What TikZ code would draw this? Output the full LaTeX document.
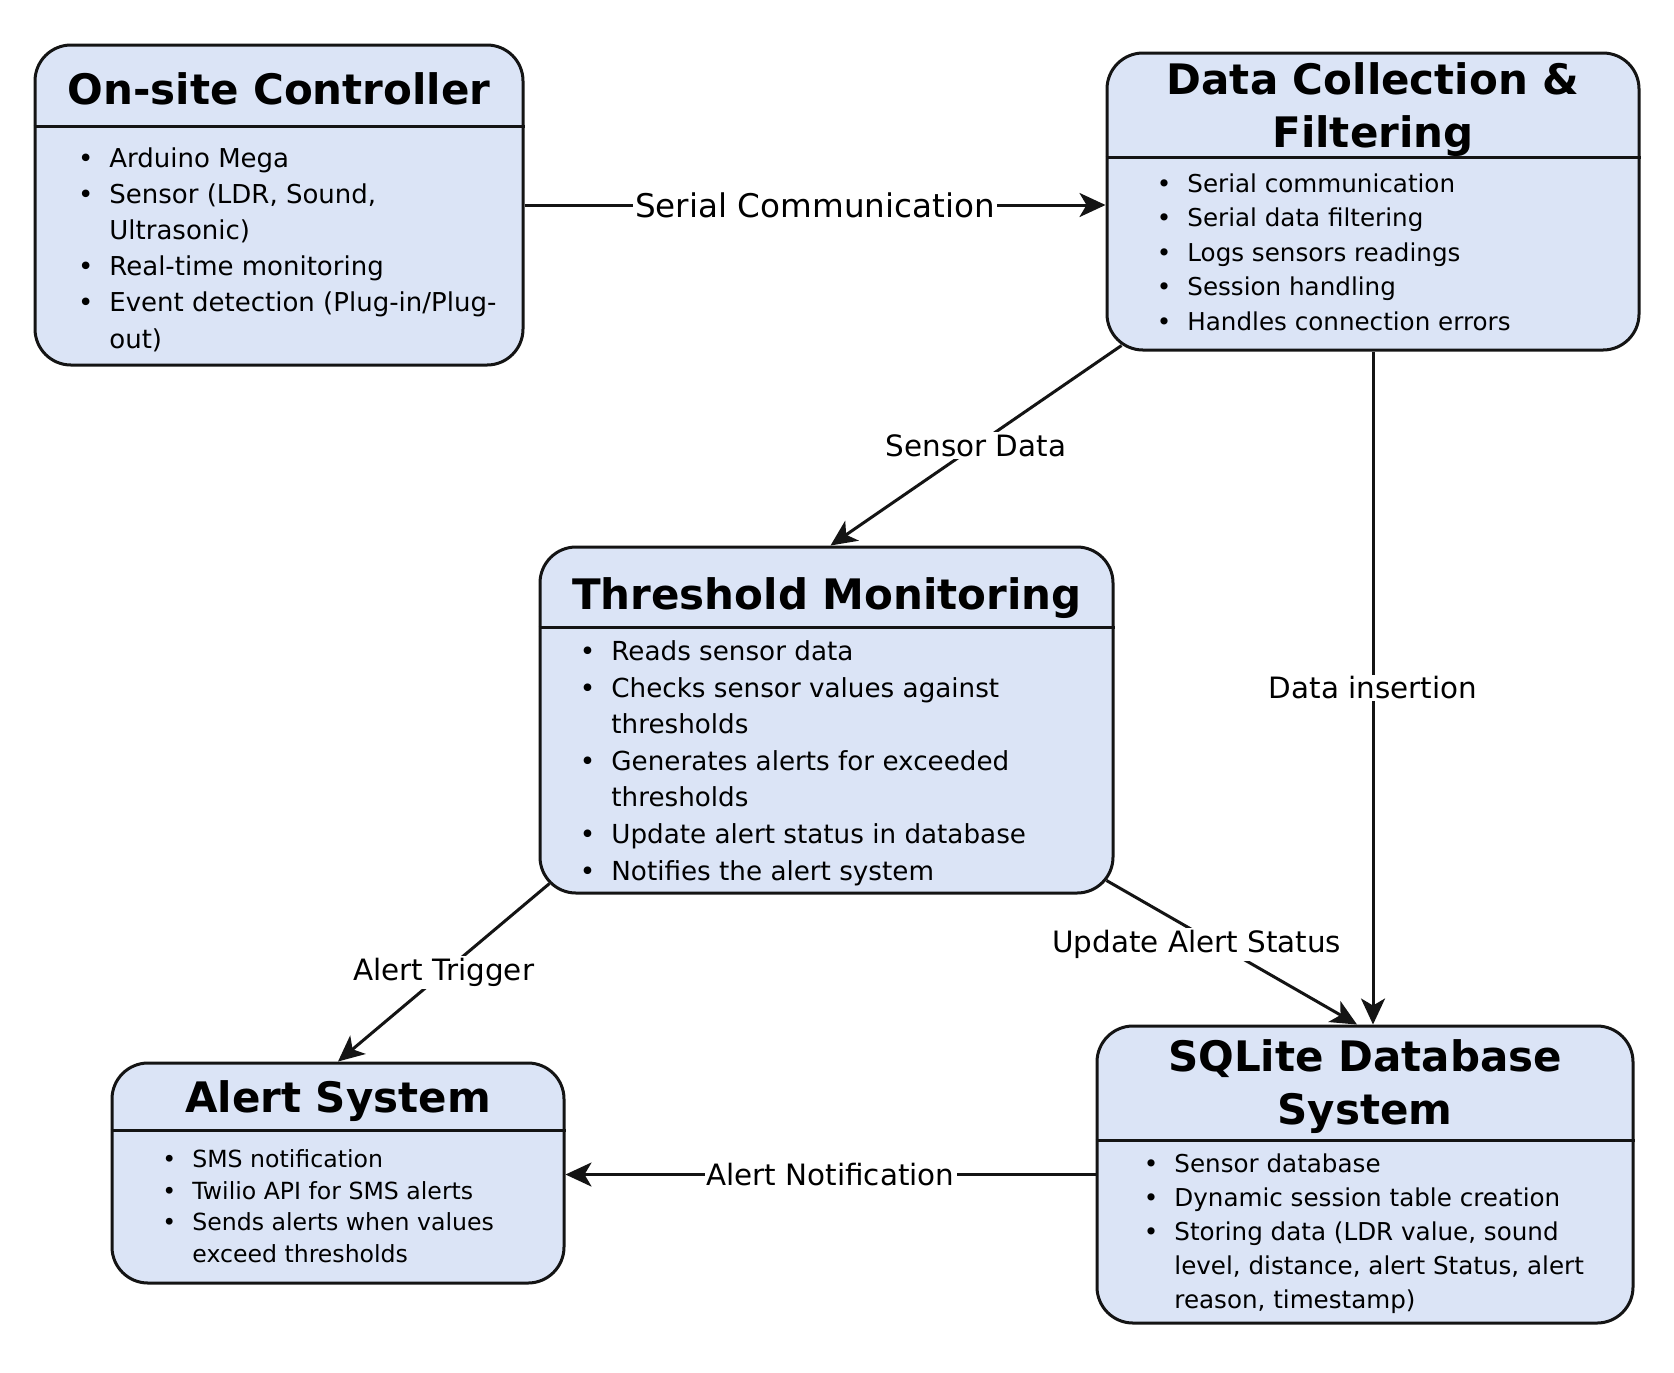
\documentclass[tikz,border=0pt]{standalone}
\usepackage{fontspec}
\setmainfont{DejaVu Sans}
\usetikzlibrary{positioning,fit,calc,arrows.meta}

\definecolor{boxfill}{RGB}{219,228,246}
\newcommand{\bul}{\llap{\textbullet\hspace{8pt}}}

\begin{document}
\begin{tikzpicture}[x=0.5pt,y=-0.5pt]
  % some colors
  \colorlet{ink}{black!92}
  % some styles
  \tikzset{
    box/.style={
      draw=ink,
      fill=boxfill,
      line width=1.5pt,
      rounded corners=18pt,
      inner sep=0pt,
    },
    divider/.style={draw=ink,line width=1.5pt},
    title/.style={
      font=\bfseries\fontsize{21}{26.5}\selectfont,
      align=center,
      anchor=base,
      inner sep=0pt,
    },
    items/.style 2 args={
      font=\fontsize{#1}{#2}\selectfont,
      align=left,
      anchor=base west,
      inner sep=0pt,
    },
    link/.style={-{Stealth[length=13pt,width=12pt,inset=3.5pt]},line width=1.5pt,draw=ink},
    tag/.style={fill=white,inner sep=1pt,font=\fontsize{14.7}{17}\selectfont},
  }
  \fill[white] (0,0) rectangle (1674,1372);
  \useasboundingbox (0,0) rectangle (1674,1372);

  % the five blocks
  \node[box,fit={(35,45) (523,365)}] (ctrl) {};
  \node[box,fit={(1107,53) (1639,350)}] (dcf) {};
  \node[box,fit={(540,547) (1113,893)}] (thr) {};
  \node[box,fit={(112,1063) (564,1283)}] (alrt) {};
  \node[box,fit={(1097,1026) (1633,1323)}] (sql) {};

  % header lines
  \draw[divider] ($(ctrl.north west)+(0,83)$) -- ($(ctrl.north east)+(0,83)$);
  \draw[divider] ($(dcf.north west)+(0,106)$) -- ($(dcf.north east)+(0,106)$);
  \draw[divider] ($(thr.north west)+(0,82)$) -- ($(thr.north east)+(0,82)$);
  \draw[divider] ($(alrt.north west)+(0,69)$) -- ($(alrt.north east)+(0,69)$);
  \draw[divider] ($(sql.north west)+(0,116)$) -- ($(sql.north east)+(0,116)$);

  % titles (base = last line)
  \node[title] (ctrl-title) at (279,104) {On-site Controller};
  \node[title] (dcf-title) at (1373,147) {Data Collection \&\\Filtering};
  \node[title] (thr-title) at (827,609) {Threshold Monitoring};
  \node[title] (alrt-title) at (338,1112) {Alert System};
  \node[title] (sql-title) at (1365,1124) {SQLite Database\\System};

  % bullet lists (base = last line)
  \node[items={13}{18.1}] (ctrl-list) at (109,348) {%
    \bul Arduino Mega\\
    \bul Sensor (LDR, Sound,\\
    Ultrasonic)\\
    \bul Real-time monitoring\\
    \bul Event detection (Plug-in/Plug-\\
    out)};
  \node[items={12.3}{17.2}] (dcf-list) at (1187,330) {%
    \bul Serial communication\\
    \bul Serial data filtering\\
    \bul Logs sensors readings\\
    \bul Session handling\\
    \bul Handles connection errors};
  \node[items={13.1}{18.3}] (thr-list) at (611,880) {%
    \bul Reads sensor data\\
    \bul Checks sensor values against\\
    thresholds\\
    \bul Generates alerts for exceeded\\
    thresholds\\
    \bul Update alert status in database\\
    \bul Notifies the alert system};
  \node[items={11.8}{15.7}] (alrt-list) at (192,1262) {%
    \bul SMS notification\\
    \bul Twilio API for SMS alerts\\
    \bul Sends alerts when values\\
    exceed thresholds};
  \node[items={12.3}{16.9}] (sql-list) at (1174,1308) {%
    \bul Sensor database\\
    \bul Dynamic session table creation\\
    \bul Storing data (LDR value, sound\\
    level, distance, alert Status, alert\\
    reason, timestamp)};

  % connectors
  \draw[link] (ctrl.east) -- node[tag,font=\fontsize{16.3}{19}\selectfont] {Serial Communication} (dcf.west |- ctrl.east);
  \draw[link] ($(dcf.south west)+(16,-6)$) -- node[tag] {Sensor Data} ($(thr.north)+(4,0)$);
  \draw[link] (dcf.south) -- node[tag] {Data insertion} (dcf.south |- sql.north);
  \draw[link] ($(thr.south east)+(-8,-14)$) -- node[tag,pos=0.36,yshift=-6pt] {Update Alert Status} ($(sql.north)+(-8,0)$);
  \draw[link] ($(thr.south west)+(11,-11)$) -- node[tag] {Alert Trigger} (alrt.north);
  \draw[link] (sql.west) -- node[tag] {Alert Notification} (alrt.east |- sql.west);
\end{tikzpicture}
\end{document}
